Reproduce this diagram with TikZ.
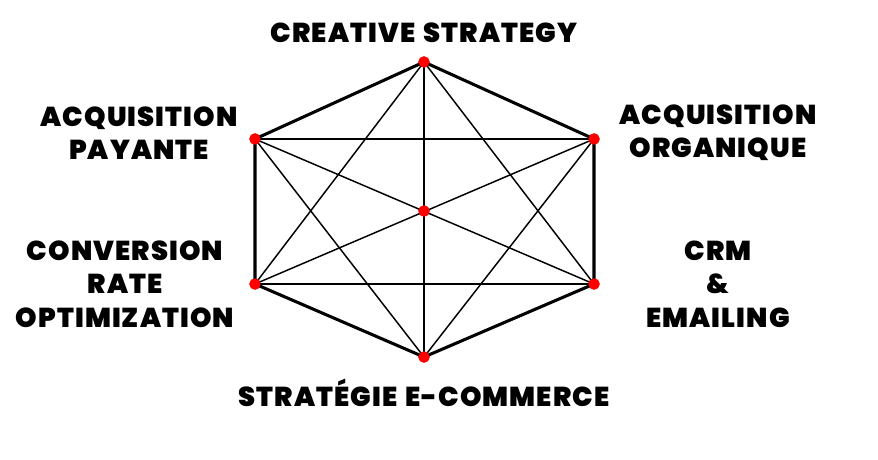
\documentclass[tikz,border=0pt]{standalone}
\usepackage{fontspec}
\setmainfont{Poppins}[BoldFont={Poppins Black},LetterSpace=4,WordSpace=1.4]
\usepackage{xcolor}
\usetikzlibrary{positioning}

\begin{document}
\begin{tikzpicture}[x=0.75pt,y=-0.75pt,every node/.style={font=\fontsize{20.5}{25}\selectfont\bfseries,align=center},
  dot/.style={circle,fill=red,inner sep=0pt,minimum size=8.5pt},
  rim/.style={line width=2.3pt,line join=round},
  chord/.style={line width=1.1pt}]
\useasboundingbox (0,0) rectangle (878,460);
\node[dot] (cs) at (424,62) {};
\node[dot] (ao) at (594,139) {};
\node[dot] (crm) at (594,284) {};
\node[dot] (ecom) at (424,357) {};
\node[dot] (cro) at (255,284) {};
\node[dot] (ap) at (255,139) {};
\node[dot] (ctr) at (424,211) {};
\foreach \a/\b in {cs/crm,cs/cro,cs/ecom,ao/ap,ao/cro,ao/ecom,crm/ap,crm/cro,ecom/ap}
  \draw[chord] (\a.center) -- (\b.center);
\draw[rim] (cs.center) -- (ao.center) -- (crm.center) -- (ecom.center) -- (cro.center) -- (ap.center) -- cycle;
\foreach \v in {cs,ao,crm,ecom,cro,ap,ctr}
  \node[dot] at (\v) {};
\node (tcs) at (424,33) {CREATIVE STRATEGY};
\node (tap) at (139,133) {ACQUISITION\\PAYANTE};
\node (tao) at (718,133) {ACQUISITION\\ORGANIQUE};
\node (tcro) at (125,284) {CONVERSION\\RATE\\OPTIMIZATION};
\node (tcrm) at (718,284) {CRM\\\&\\EMAILING};
\node (tecom) at (424,393) {STRATÉGIE E-COMMERCE};
\end{tikzpicture}
\end{document}
